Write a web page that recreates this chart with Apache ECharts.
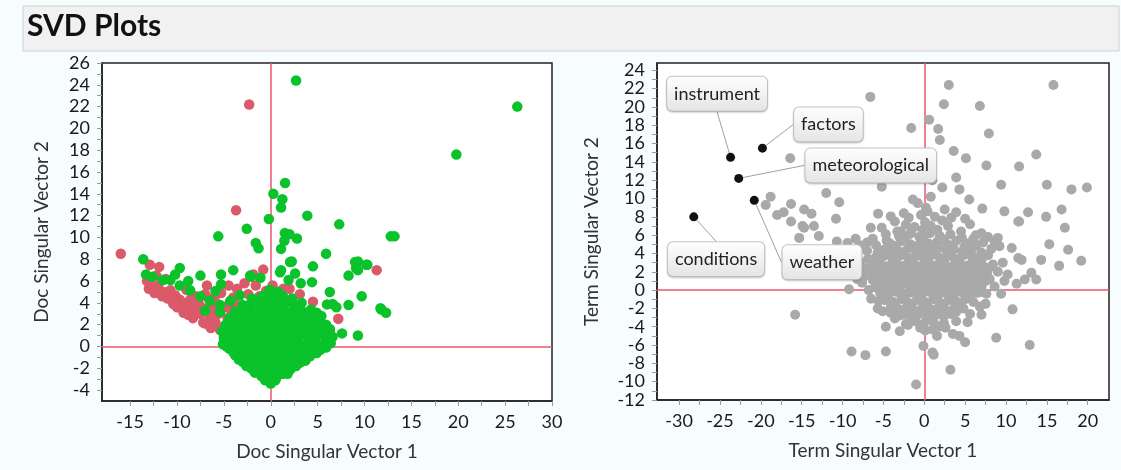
<!DOCTYPE html>
<html>
<head>
<meta charset="utf-8">
<script src="https://cdn.jsdelivr.net/npm/echarts@6/dist/echarts.min.js"></script>
<style>
  html, body { margin: 0; padding: 0; background: #f7fcfe; }
  #chart { width: 1121px; height: 470px; }
</style>
</head>
<body>
<div id="chart"></div>
<script>
// ---------- Tick labels ----------
const docXTicks = [-15, -10, -5, 0, 5, 10, 15, 20, 25, 30];
const docXMinor = [-12.5, -7.5, -2.5, 2.5, 7.5, 12.5, 17.5, 22.5, 27.5];
const docYTicks = [-4, -2, 0, 2, 4, 6, 8, 10, 12, 14, 16, 18, 20, 22, 24, 26];
const docYMinor = [-3, -1, 1, 3, 5, 7, 9, 11, 13, 15, 17, 19, 21, 23, 25];
const termXTicks = [-30, -25, -20, -15, -10, -5, 0, 5, 10, 15, 20];
const termXMinor = [-27.5, -22.5, -17.5, -12.5, -7.5, -2.5, 2.5, 7.5, 12.5, 17.5];
const termYTicks = [-12, -10, -8, -6, -4, -2, 0, 2, 4, 6, 8, 10, 12, 14, 16, 18, 20, 22, 24];
const termYMinor = [-11, -9, -7, -5, -3, -1, 1, 3, 5, 7, 9, 11, 13, 15, 17, 19, 21, 23];

// ---------- Doc singular vectors (red group) ----------
const docRed = [
  [-16.0, 8.5], [-12.9, 7.5], [-11.9, 7.3], [-2.3, 22.2], [-3.7, 12.5], [-0.8, 7.05], [-1.85, 6.6],
  [11.3, 7.0], [7.2, 2.55], [6.3, 1.5], [4.5, 4.1], [3.1, 4.8], [1.35, 5.3], [-3.6, 5.3], [-4.0, 4.5],
  [-3.6, 3.8], [-6.8, 5.6], [-7.0, 4.8], [-7.2, 2.2], [-13.2, 6.0], [-12.6, 5.5], [-12.0, 5.6],
  [-11.4, 5.0], [-10.7, 5.15], [-10.2, 4.7], [-9.7, 4.3], [-9.1, 4.0], [-8.6, 3.8], [-8.1, 3.3],
  [-7.5, 3.0], [-6.5, 2.6], [-5.9, 2.2], [-4.9, 1.9], [-3.8, 1.5], [-11.0, 4.4], [-10.4, 3.9],
  [-9.5, 3.5], [-8.8, 2.9], [-8.0, 4.6], [-9.0, 5.2], [-7.6, 3.8], [-6.2, 3.4], [-5.6, 3.0],
  [-5.0, 3.6], [-4.6, 2.6], [-3.0, 3.2], [-2.4, 4.8], [-1.2, 4.6], [-0.5, 5.1], [0.8, 5.0],
  [-6.0, 4.3], [-5.3, 4.9], [-4.5, 5.6], [-12.2, 6.5], [-11.2, 6.2], [-1.5, 2.0], [0.5, 3.0],
  [-2.0, 1.0], [1.8, 0.6], [-0.6, -1.0], [2.6, 2.2], [-3.0, 3.0], [3.5, 1.2],
  [-11.6, 4.6], [-10.0, 3.6], [-9.3, 3.1], [-8.3, 2.6], [-7.0, 2.1], [-6.4, 1.7], [-5.4, 1.5],
  [-8.5, 4.4], [-7.9, 4.0], [-6.8, 3.5], [-6.6, 4.4], [-5.8, 3.9], [-4.2, 3.3], [-4.4, 4.0],
  [-12.4, 4.9], [-13.0, 5.3], [-2.8, 5.8], [-1.6, 5.6], [0.2, 5.6], [2.0, 5.3]
];

// ---------- Doc singular vectors (green group) ----------
const docGreen = [
  [26.3, 22.0], [19.8, 17.6], [2.7, 24.4], [1.53, 15.0], [0.28, 14.0], [1.24, 13.5], [1.1, 12.75],
  [3.9, 12.0], [-0.2, 11.7], [-2.56, 10.8], [-5.6, 10.1], [1.5, 10.4], [2.0, 10.3], [1.45, 9.7],
  [2.8, 9.9], [-1.6, 9.5], [-1.3, 9.0], [1.1, 8.95], [2.24, 7.8], [-13.6, 8.0], [-9.7, 7.2],
  [1.1, 7.0], [12.8, 10.1], [13.2, 10.1], [7.3, 11.2], [10.3, 7.5], [9.3, 7.8], [9.1, 7.2],
  [11.8, 3.4], [12.3, 3.1], [9.3, 1.0], [5.9, 8.5], [4.5, 7.35], [3.2, 5.8], [2.06, 7.75],
  [0.99, 6.8], [2.6, 6.7], [-5.3, 6.6], [-5.3, 5.7], [-2.1, 6.4], [-1.1, 6.3], [1.9, 6.1],
  [4.4, 5.9], [8.3, 6.5], [9.0, 7.75], [10.2, 7.5], [9.3, 7.0], [9.7, 4.6], [8.3, 3.8], [6.3, 5.0],
  [6.6, 3.9], [6.0, 3.86], [7.0, 3.6], [11.7, 3.5], [7.6, 1.2], [-7.5, 6.5], [-5.4, 3.15],
  [-12.6, 6.4], [-11.5, 6.1], [-10.7, 6.1], [-9.7, 5.6], [-8.6, 5.15], [-7.5, 4.6], [-6.5, 4.2],
  [-5.4, 3.8], [-7.0, 3.3], [-5.9, 5.1], [-4.3, 4.2], [-3.3, 4.7], [-2.7, 3.3], [-4.0, 7.0],
  [-2.2, 6.5], [-13.3, 6.6], [-10.2, 6.6], [-8.8, 6.0],
  // dense cluster
  [0.0, -3.4],
  [-1.0, -2.7], [-0.2, -2.9], [0.7, -2.7], [1.3, -2.5],
  [-2.1, -2.0], [-1.3, -2.2], [-0.5, -2.0], [0.4, -2.2], [1.3, -2.0], [2.1, -2.1],
  [-3.0, -1.4], [-2.2, -1.6], [-1.3, -1.4], [-0.4, -1.6], [0.5, -1.4], [1.4, -1.6], [2.3, -1.4], [3.1, -1.5],
  [-3.8, -0.8], [-2.9, -1.0], [-2.0, -0.8], [-1.1, -1.0], [-0.2, -0.8], [0.7, -1.0], [1.6, -0.8], [2.5, -1.0], [3.4, -0.8], [4.2, -0.9],
  [-4.4, -0.2], [-3.6, -0.4], [-2.7, -0.2], [-1.8, -0.4], [-0.9, -0.2], [0.0, -0.4], [0.9, -0.2], [1.8, -0.4], [2.7, -0.2], [3.6, -0.4], [4.5, -0.2], [5.3, -0.3],
  [-5.1, 0.2], [-4.2, 0.4], [-3.3, 0.2], [-2.4, 0.4], [-1.5, 0.2], [-0.6, 0.4], [0.3, 0.2], [1.2, 0.4], [2.1, 0.2], [3.0, 0.4], [3.9, 0.2], [4.8, 0.4], [5.7, 0.2], [6.4, 0.3],
  [-5.0, 0.8], [-4.1, 1.0], [-3.2, 0.8], [-2.3, 1.0], [-1.4, 0.8], [-0.5, 1.0], [0.4, 0.8], [1.3, 1.0], [2.2, 0.8], [3.1, 1.0], [4.0, 0.8], [4.9, 1.0], [5.8, 0.8], [6.6, 0.9],
  [-5.2, 1.4], [-4.3, 1.6], [-3.4, 1.4], [-2.5, 1.6], [-1.6, 1.4], [-0.7, 1.6], [0.2, 1.4], [1.1, 1.6], [2.0, 1.4], [2.9, 1.6], [3.8, 1.4], [4.7, 1.6], [5.6, 1.4], [6.3, 1.6],
  [-4.8, 2.0], [-3.9, 2.2], [-3.0, 2.0], [-2.1, 2.2], [-1.2, 2.0], [-0.3, 2.2], [0.6, 2.0], [1.5, 2.2], [2.4, 2.0], [3.3, 2.2], [4.2, 2.0], [5.1, 2.2], [5.9, 2.0],
  [-4.4, 2.6], [-3.5, 2.8], [-2.6, 2.6], [-1.7, 2.8], [-0.8, 2.6], [0.1, 2.8], [1.0, 2.6], [1.9, 2.8], [2.8, 2.6], [3.7, 2.8], [4.6, 2.6], [5.4, 2.8],
  [-3.8, 3.2], [-2.9, 3.4], [-2.0, 3.2], [-1.1, 3.4], [-0.2, 3.2], [0.7, 3.4], [1.6, 3.2], [2.5, 3.4], [3.4, 3.2], [4.3, 3.4],
  [-3.0, 3.8], [-2.1, 4.0], [-1.2, 3.8], [-0.3, 4.0], [0.6, 3.8], [1.5, 4.0], [2.4, 3.8], [3.3, 4.0],
  [-2.0, 4.4], [-0.9, 4.6], [0.2, 4.4], [1.3, 4.6], [2.3, 4.4], [-0.1, 5.2],
  // in-between fill
  [-0.6, -3.1], [0.5, -3.1], [-1.7, -2.4], [-0.1, -2.5], [0.9, -2.4], [1.8, -2.5],
  [-2.6, -1.8], [-0.9, -1.8], [0.9, -1.9], [2.7, -1.8], [-3.4, -1.2], [-1.7, -1.2], [0.1, -1.2],
  [1.9, -1.2], [3.7, -1.3], [-4.0, -0.5], [-2.3, -0.6], [-0.5, -0.6], [1.3, -0.6], [3.1, -0.6],
  [4.9, -0.6], [-4.7, 0.0], [-2.9, 0.0], [-1.0, 0.0], [0.7, 0.0], [2.5, 0.0], [4.3, 0.0], [5.9, -0.1],
  [-4.6, 0.6], [-2.8, 0.6], [-1.0, 0.6], [0.8, 0.6], [2.6, 0.6], [4.4, 0.6], [6.1, 0.6],
  [-4.7, 1.2], [-2.9, 1.2], [-1.1, 1.2], [0.7, 1.2], [2.5, 1.2], [4.3, 1.2], [6.0, 1.2],
  [-4.4, 1.8], [-2.6, 1.8], [-0.8, 1.8], [1.0, 1.8], [2.8, 1.8], [4.6, 1.8], [5.5, 1.8],
  [-4.0, 2.4], [-2.2, 2.4], [-0.4, 2.4], [1.4, 2.4], [3.2, 2.4], [5.0, 2.4],
  [-3.4, 3.0], [-1.6, 3.0], [0.2, 3.0], [2.0, 3.0], [3.8, 3.0], [4.9, 3.1],
  [-2.6, 3.6], [-0.8, 3.6], [1.0, 3.6], [2.9, 3.6], [-1.6, 4.2], [0.7, 4.2], [1.9, 4.2], [-0.4, 4.8], [0.8, 5.0]
];

// ---------- Term singular vectors (gray) ----------
const termPoints = [
  [-6.6, 21.1], [3.0, 22.4], [15.8, 22.4], [2.4, 20.3], [6.8, 20.1], [-1.6, 17.7], [0.6, 18.6],
  [1.7, 17.6], [1.9, 16.4], [7.9, 17.1], [3.6, 15.2], [5.1, 14.4], [13.7, 14.8], [-16.4, 14.4],
  [1.0, 12.0], [3.9, 12.3], [7.6, 13.6], [9.4, 11.5], [11.6, 13.5], [15.0, 11.5], [18.0, 11.0],
  [19.9, 11.2], [-5.2, 11.3], [-12.0, 10.6], [-10.4, 9.6], [-1.4, 9.9], [0.8, 10.2], [2.2, 11.2],
  [4.3, 11.0], [5.5, 9.9], [7.1, 8.9], [9.8, 8.6], [11.6, 7.5],
  [17.2, 6.8], [15.3, 5.0], [17.6, 4.4], [16.5, 2.65], [14.3, 3.3], [11.9, 3.3], [13.7, 1.15],
  [12.7, 8.5], [11.5, 7.5], [10.7, 4.6], [9.2, 4.8], [9.6, 3.0], [8.4, 2.8], [7.0, 6.2], [8.6, 5.3],
  [9.0, 5.7], [11.3, 0.7], [12.3, 1.15], [13.1, 1.9], [10.2, 1.7], [11.5, 3.5], [9.4, -0.4],
  [7.5, -1.5], [7.0, -2.7], [10.8, -2.1], [8.8, -5.2], [12.9, -6.0], [16.8, 8.8], [14.9, 8.0], [19.2, 3.2],
  [-18.8, 10.2], [-19.4, 9.3], [-16.3, 9.4], [-17.2, 8.5], [-18.0, 8.2], [-14.7, 8.8], [-13.8, 8.35],
  [-16.3, 7.5], [-14.9, 7.0], [-13.5, 7.0], [-14.7, 6.8], [-10.8, 7.8], [-12.9, 5.9], [-15.3, 5.7],
  [-5.65, 8.35], [-4.1, 8.05], [-6.55, 6.8], [-4.7, 6.1], [-8.4, 5.6], [-10.7, 5.3], [-9.4, 5.15],
  [-7.0, 5.2], [-3.3, 6.4], [-5.7, 4.1], [-4.9, 4.4], [-3.7, 4.8], [-12.7, 3.3], [-11.5, 3.9],
  [-9.6, 2.8], [-8.4, 1.7], [-9.2, 0.1], [-7.4, 1.45], [-7.6, 0.8], [-6.5, -0.95], [-5.7, -2.0],
  [-5.1, -2.3], [-4.1, -2.5], [-3.1, -2.8], [-15.8, -2.7], [-8.9, -6.7], [-7.2, -7.1], [-4.7, -6.7],
  [-4.7, -4.0], [-2.25, -3.7], [-0.1, -6.1], [1.0, -6.8], [1.15, -7.05], [-1.0, -10.3], [3.2, -8.7],
  [1.0, -4.3], [1.56, -5.0], [2.6, -4.1], [3.5, -4.8], [4.3, -5.0], [5.0, -5.7],
  [-2.5, 8.4], [-0.8, 9.5], [-0.4, 8.2], [0.4, 8.6], [2.5, 8.8], [3.3, 7.9], [4.5, 6.4], [0.8, 7.0],
  [1.6, 6.6], [2.9, 7.0], [-2.25, 7.15], [-1.6, 6.25], [-2.9, 6.4], [5.6, 7.2], [6.3, 6.0],
  [0.1, 7.4], [-0.2, 6.6], [0.2, 9.0], [0.1, -4.4],
  // dense cluster
  [-3.1, 5.9], [-1.8, 6.1], [-0.6, 5.8], [0.7, 6.2], [1.9, 5.9], [3.2, 6.1], [4.6, 5.7],
  [-4.2, 5.1], [-2.9, 5.3], [-1.7, 5.0], [-0.4, 5.4], [0.5, 5.1], [1.6, 5.3], [2.8, 5.0], [3.9, 5.4], [5.3, 5.1], [6.4, 4.9],
  [-5.3, 4.3], [-4.0, 4.5], [-3.0, 4.2], [-2.0, 4.6], [-1.1, 4.3], [-0.2, 4.5], [0.8, 4.2], [1.7, 4.6], [2.7, 4.3], [3.6, 4.5], [4.6, 4.2], [5.8, 4.4], [7.0, 4.1],
  [-6.0, 3.5], [-5.0, 3.7], [-3.9, 3.4], [-2.8, 3.8], [-1.9, 3.5], [-1.0, 3.7], [0.0, 3.4], [0.9, 3.8], [1.9, 3.5], [2.9, 3.7], [3.8, 3.4], [4.8, 3.8], [5.9, 3.5], [7.0, 3.3],
  [-6.3, 2.7], [-5.4, 2.9], [-4.5, 2.6], [-3.4, 3.0], [-2.4, 2.7], [-1.4, 2.9], [-0.5, 2.6], [0.5, 3.0], [1.4, 2.7], [2.4, 2.9], [3.4, 2.6], [4.3, 3.0], [5.3, 2.7], [6.4, 2.9], [7.4, 2.5],
  [-6.6, 1.9], [-5.7, 2.1], [-4.8, 1.8], [-3.8, 2.2], [-2.9, 1.9], [-1.9, 2.1], [-1.0, 1.8], [0.0, 2.2], [1.0, 1.9], [1.9, 2.1], [2.9, 1.8], [3.9, 2.2], [4.8, 1.9], [5.8, 2.1], [6.8, 1.8], [7.7, 2.0],
  [-6.3, 1.1], [-5.3, 1.3], [-4.3, 1.0], [-3.3, 1.4], [-2.3, 1.1], [-1.4, 1.3], [-0.4, 1.0], [0.6, 1.4], [1.5, 1.1], [2.5, 1.3], [3.4, 1.0], [4.4, 1.4], [5.4, 1.1], [6.5, 1.3], [7.5, 1.0],
  [-6.0, 0.3], [-4.9, 0.5], [-3.9, 0.2], [-2.9, 0.6], [-1.8, 0.3], [-0.9, 0.5], [0.1, 0.2], [1.1, 0.6], [2.0, 0.3], [3.0, 0.5], [3.9, 0.2], [4.9, 0.6], [6.0, 0.3], [7.0, 0.4],
  [-5.4, -0.3], [-4.4, -0.5], [-3.4, -0.2], [-2.4, -0.6], [-1.4, -0.3], [-0.4, -0.5], [0.6, -0.2], [1.5, -0.6], [2.5, -0.3], [3.5, -0.5], [4.5, -0.2], [5.5, -0.6], [6.5, -0.3],
  [-4.8, -1.1], [-3.8, -1.3], [-2.8, -1.0], [-1.9, -1.4], [-0.9, -1.1], [0.1, -1.3], [1.1, -1.0], [2.0, -1.4], [3.0, -1.1], [4.0, -1.3], [5.0, -1.0], [6.0, -1.3],
  [-4.1, -1.9], [-3.1, -2.1], [-2.1, -1.8], [-1.2, -2.2], [-0.2, -1.9], [0.8, -2.1], [1.8, -1.8], [2.7, -2.2], [3.7, -1.9], [4.8, -2.0],
  [-2.6, -2.7], [-1.6, -2.9], [-0.6, -2.6], [0.4, -3.0], [1.4, -2.7], [2.4, -2.9], [3.3, -2.6],
  [-1.1, -3.4], [0.0, -3.6], [1.1, -3.4],
  [-7.3, 2.4], [-6.9, 3.4], [8.3, 2.6], [8.0, 1.2], [7.8, 3.8], [-6.8, 0.0], [7.6, -0.4], [6.8, -1.8],
  [-5.6, -1.2], [5.6, -2.6], [-3.6, -3.1], [2.4, -3.6], [-0.5, -4.1], [6.0, 5.6], [-4.6, 5.4],
  [-5.9, 4.9], [7.2, 5.2], [-1.2, 6.9], [2.2, 7.6],
  // in-between fill and halo
  [-5.5, 3.1], [-3.4, 3.6], [-1.4, 3.2], [0.4, 3.3], [2.4, 3.2], [4.3, 3.3], [6.4, 3.5],
  [-4.9, 2.3], [-2.9, 2.4], [-1.0, 2.4], [1.0, 2.4], [2.9, 2.3], [4.8, 2.4], [6.6, 2.4],
  [-5.8, 1.6], [-3.8, 1.6], [-1.9, 1.6], [0.1, 1.6], [2.0, 1.6], [3.9, 1.7], [5.9, 1.6], [7.2, 1.5],
  [-5.5, 0.8], [-3.4, 0.8], [-1.4, 0.8], [0.6, 0.8], [2.5, 0.8], [4.4, 0.8], [6.4, 0.8],
  [-5.0, 0.0], [-3.0, 0.0], [-1.0, 0.0], [1.0, 0.0], [3.0, 0.0], [5.0, 0.0], [6.9, -0.2],
  [-4.4, -0.8], [-2.4, -0.8], [-0.4, -0.8], [1.6, -0.8], [3.6, -0.8], [5.6, -0.9],
  [-3.6, -1.6], [-1.6, -1.6], [0.3, -1.6], [2.3, -1.6], [4.3, -1.6], [-2.1, -2.4], [-0.1, -2.4],
  [1.9, -2.4], [3.9, -2.4], [-4.6, 3.9], [-2.4, 4.0], [-0.5, 3.9], [1.4, 4.0], [3.3, 4.0], [5.3, 4.0],
  [-3.6, 4.8], [-1.1, 4.8], [1.0, 4.7], [3.2, 4.8], [4.9, 4.7], [-2.4, 5.6], [-0.1, 5.6], [2.4, 5.5],
  [-7.8, 3.0], [-8.2, 1.2], [-7.0, 4.3], [-6.3, 5.6], [-5.2, 6.8], [-7.9, 4.9],
  [8.6, 0.4], [9.0, 2.0], [8.2, 4.5], [7.8, 5.8], [9.8, 1.0], [-1.9, 7.9], [1.3, 8.0], [3.9, 8.5],
  [5.0, 7.8], [-3.6, 7.5], [-2.0, -3.8], [1.8, -4.0], [3.9, -3.4], [-3.0, -4.5], [5.3, -3.5]
];

// ---------- Labelled terms ----------
const termNames = ['instrument', 'factors', 'meteorological', 'weather', 'conditions'];
const termLabelled = [[-23.7, 14.5], [-19.8, 15.5], [-22.7, 12.2], [-20.8, 9.8], [-28.2, 8.0]];

// ---------- Chart ----------
const FONT = 'Lato, "Noto Sans", sans-serif';
const chart = echarts.init(document.getElementById('chart'), null, { renderer: 'canvas' });

function xAxisCfg(gridIndex, min, max, name, ticks, minor) {
  return {
    type: 'value', gridIndex, min, max, name,
    nameLocation: 'middle', nameGap: 41,
    nameTextStyle: { fontFamily: FONT, fontSize: 19, color: '#333' },
    axisLine: { show: true, onZero: false, lineStyle: { color: '#222', width: 1.5 } },
    axisTick: { show: true, length: 5, customValues: ticks.concat(minor), lineStyle: { color: '#9a9a9a', width: 1 } },
    axisLabel: { customValues: ticks, margin: 12, fontFamily: FONT, fontSize: 18, color: '#1a1a1a' },
    splitLine: { show: false }
  };
}
function yAxisCfg(gridIndex, min, max, name, ticks, minor, gap) {
  return {
    type: 'value', gridIndex, min, max, name,
    nameLocation: 'middle', nameGap: gap, nameRotate: 90,
    nameTextStyle: { fontFamily: FONT, fontSize: 19, color: '#333' },
    axisLine: { show: true, onZero: false, lineStyle: { color: '#222', width: 1.5 } },
    axisTick: { show: true, length: 5, customValues: ticks.concat(minor), lineStyle: { color: '#9a9a9a', width: 1 } },
    axisLabel: { customValues: ticks, margin: 12, fontFamily: FONT, fontSize: 18, color: '#1a1a1a' },
    splitLine: { show: false }
  };
}

const refLine = {
  silent: true, symbol: 'none', z: 1,
  label: { show: false },
  lineStyle: { color: '#e8566c', width: 1.5, type: 'solid' },
  data: [{ xAxis: 0 }, { yAxis: 0 }]
};

const labelOffsets = [[-13.5, -63.5], [66, -23.6], [132, -13], [67.7, 62], [22.3, 42.4]];

const option = {
  backgroundColor: '#f7fcfe',
  animation: false,
  graphic: [{
    type: 'rect', left: 22.5, top: 5.5, z: -1,
    shape: { width: 1096, height: 45 },
    style: { fill: '#f1f1f1', stroke: '#cfcfcf', lineWidth: 1 }
  }],
  title: {
    text: 'SVD Plots', left: 27, top: 11, padding: 0,
    textStyle: { fontFamily: FONT, fontSize: 30, fontWeight: 'bold', color: '#111' }
  },
  grid: [
    { left: 102, right: 569, top: 63, bottom: 69, show: true, backgroundColor: '#ffffff', borderColor: '#222', borderWidth: 1.5 },
    { left: 657, right: 12, top: 63, bottom: 70, show: true, backgroundColor: '#ffffff', borderColor: '#222', borderWidth: 1.5 }
  ],
  xAxis: [
    xAxisCfg(0, -18, 30, 'Doc Singular Vector 1', docXTicks, docXMinor),
    xAxisCfg(1, -32.7, 22.6, 'Term Singular Vector 1', termXTicks, termXMinor)
  ],
  yAxis: [
    yAxisCfg(0, -5, 26, 'Doc Singular Vector 2', docYTicks, docYMinor, 51),
    yAxisCfg(1, -12, 24.8, 'Term Singular Vector 2', termYTicks, termYMinor, 56)
  ],
  series: [
    {
      type: 'scatter', name: 'docRed', xAxisIndex: 0, yAxisIndex: 0, z: 10,
      data: docRed, symbolSize: 10.5, itemStyle: { color: '#da5a6a', opacity: 1 },
      markLine: refLine
    },
    {
      type: 'scatter', name: 'docGreen', xAxisIndex: 0, yAxisIndex: 0, z: 11,
      data: docGreen, symbolSize: 10.5, itemStyle: { color: '#0ac22a', opacity: 1 }
    },
    {
      type: 'scatter', name: 'terms', xAxisIndex: 1, yAxisIndex: 1, z: 10,
      data: termPoints, symbolSize: 10, itemStyle: { color: '#a9a9a9', opacity: 1 },
      markLine: refLine
    },
    {
      type: 'scatter', name: 'labelled', xAxisIndex: 1, yAxisIndex: 1, z: 12,
      data: termLabelled.map((p, i) => ({ value: p, name: termNames[i] })),
      symbolSize: 9, itemStyle: { color: '#111', opacity: 1 },
      label: {
        show: true, position: 'inside', formatter: '{b}',
        fontFamily: FONT, fontSize: 18, color: '#222',
        padding: [8, 7, 8, 7], borderRadius: 5, borderColor: '#c6c6c6', borderWidth: 1,
        backgroundColor: {
          type: 'linear', x: 0, y: 0, x2: 0, y2: 1,
          colorStops: [{ offset: 0, color: '#ffffff' }, { offset: 1, color: '#e4e4e4' }]
        },
        shadowBlur: 2, shadowColor: 'rgba(0,0,0,0.15)', shadowOffsetY: 1
      },
      labelLayout: function (params) {
        const o = labelOffsets[params.dataIndex];
        return { dx: o[0], dy: o[1] };
      },
      labelLine: { show: true, lineStyle: { color: '#a0a0a0', width: 1 } }
    }
  ]
};
chart.setOption(option);
</script>
</body>
</html>
